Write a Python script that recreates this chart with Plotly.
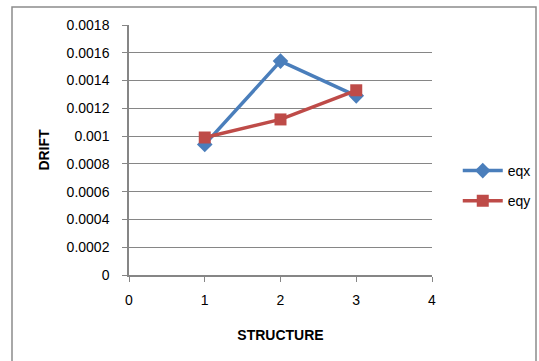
import plotly.graph_objects as go

# Structure index and drift values for both earthquake directions
structure = [1, 2, 3]
eqx = [0.00094, 0.00154, 0.00129]
eqy = [0.00099, 0.00112, 0.00133]

y_ticks = [0, 0.0002, 0.0004, 0.0006, 0.0008, 0.001, 0.0012, 0.0014, 0.0016, 0.0018]
y_tick_text = ["0", "0.0002", "0.0004", "0.0006", "0.0008", "0.001",
               "0.0012", "0.0014", "0.0016", "0.0018"]
x_ticks = [0, 1, 2, 3, 4]

W, H = 539, 361
ML, MR, MT, MB = 129, 107, 25, 86

fig = go.Figure()
fig.add_trace(go.Scatter(
    x=structure, y=eqx, name="eqx", mode="lines+markers", legendgroup="a",
    line=dict(color="#4a7ebb", width=3.5),
    marker=dict(symbol="diamond", size=12, color="#4a7ebb"),
))
fig.add_trace(go.Scatter(
    x=structure, y=eqy, name="eqy", mode="lines+markers", legendgroup="b",
    line=dict(color="#be4b48", width=3.5),
    marker=dict(symbol="square", size=12, color="#be4b48"),
))

pw = W - ML - MR
ph = H - MT - MB
# outer chart border
fig.add_shape(type="rect", xref="paper", yref="paper",
              x0=(12 - ML) / pw, x1=(536 - ML) / pw,
              y0=(H - MB - 362) / ph, y1=(H - MB - 7) / ph,
              line=dict(color="#8c8c8c", width=1.5), fillcolor="rgba(0,0,0,0)",
              layer="below")

font_family = "Liberation Sans, Arial, sans-serif"
fig.update_layout(
    width=W, height=H,
    margin=dict(l=ML, r=MR, t=MT, b=MB, autoexpand=False),
    paper_bgcolor="white", plot_bgcolor="white",
    font=dict(family=font_family, size=14, color="black"),
    showlegend=True,
    legend=dict(x=1.085, y=(H - MB - 186) / ph, xanchor="left", yanchor="middle",
                font=dict(size=14), tracegroupgap=9, itemwidth=40,
                bgcolor="rgba(0,0,0,0)"),
    xaxis=dict(
        range=[0, 4], tickvals=x_ticks, showgrid=False, zeroline=False,
        showline=True, linecolor="#868686", linewidth=1.5,
        ticks="outside", ticklen=5, tickcolor="#868686",
        tickfont=dict(size=14), fixedrange=True, ticklabelstandoff=6,
        title=dict(text="<b>STRUCTURE</b>", font=dict(size=14), standoff=24),
    ),
    yaxis=dict(
        range=[0, 0.0018], tickvals=y_ticks, ticktext=y_tick_text,
        showgrid=True, gridcolor="#868686", gridwidth=1.2, zeroline=False,
        showline=True, linecolor="#868686", linewidth=1.5,
        ticks="outside", ticklen=5, tickcolor="#868686",
        tickfont=dict(size=14), fixedrange=True, ticklabelstandoff=10,
        title=dict(text="<b>DRIFT</b>", font=dict(size=14), standoff=14),
    ),
)

fig.write_html("out.html")
